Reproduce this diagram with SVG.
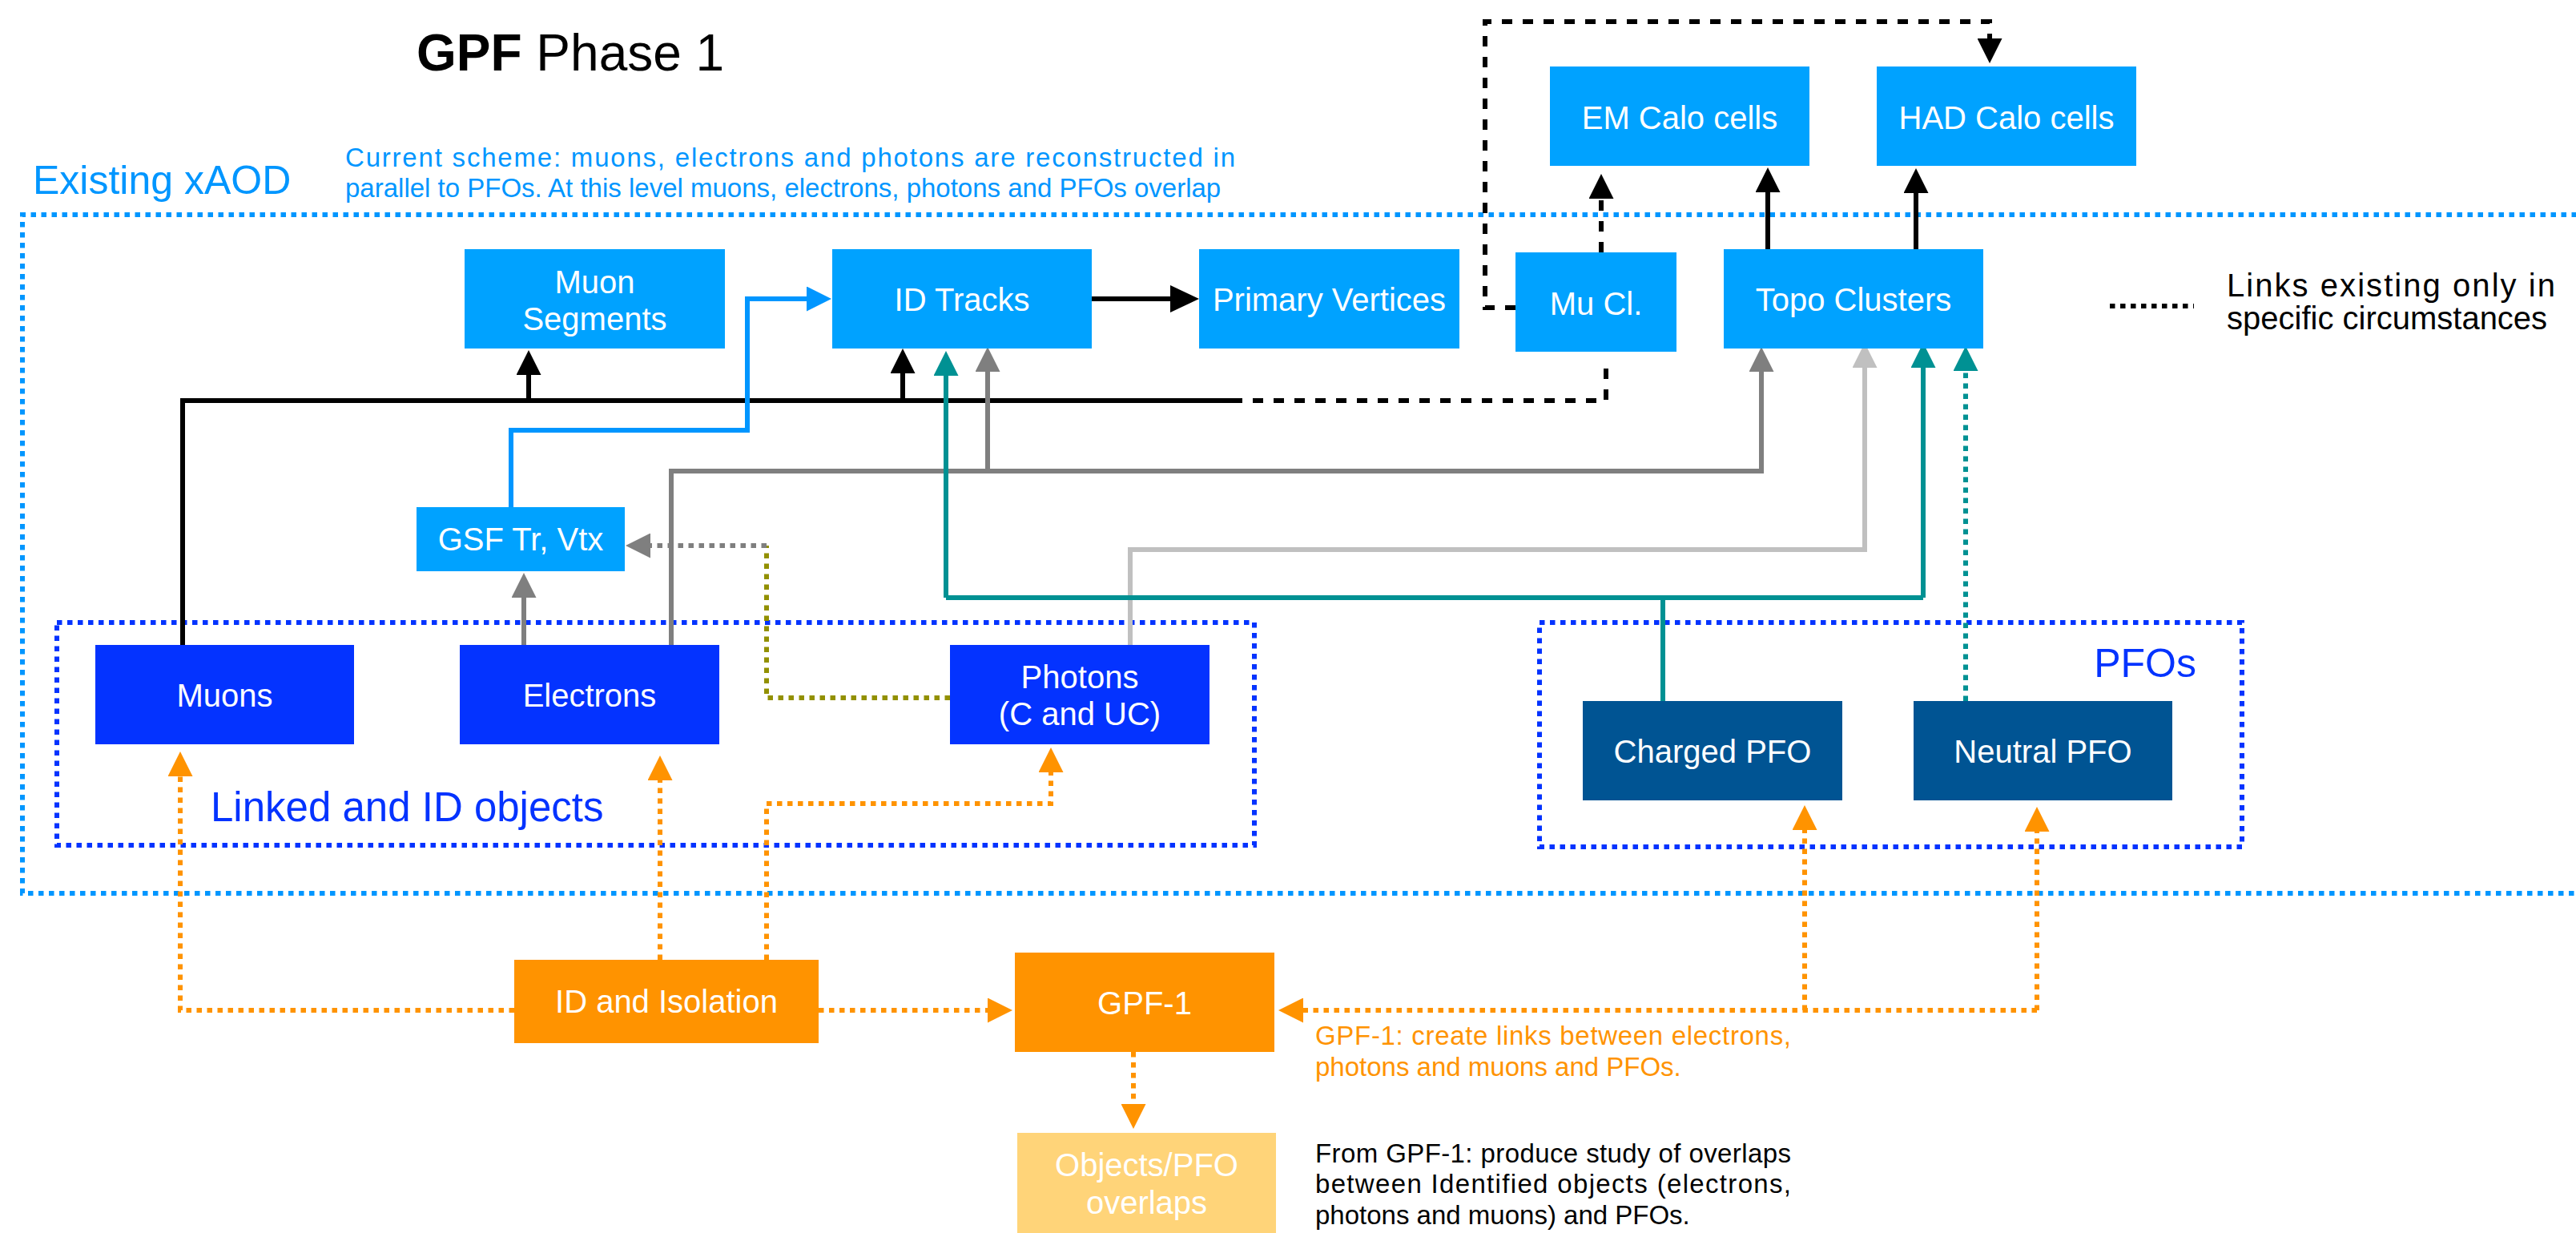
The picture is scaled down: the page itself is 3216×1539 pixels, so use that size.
<svg xmlns="http://www.w3.org/2000/svg" width="3216" height="1539" viewBox="0 0 3216 1539">
<style>
  text { font-family: "Liberation Sans", Arial, Helvetica, sans-serif; }
  .lbl { font-size: 40px; fill: #FFFFFF; text-anchor: middle; }
  .lb { fill: #00A2FF; }
  .db { fill: #0433FF; }
  .pf { fill: #005493; }
  .or { fill: #FF9300; }
  .po { fill: #FFD479; }
  .grp { fill: none; stroke-width: 6; stroke-dasharray: 6.5 6.5; }
  .c { fill: none; stroke-width: 6; }
  .dot { stroke-dasharray: 6.5 6.5; }
  .dash { stroke-dasharray: 13 13; }
  .note { font-size: 33px; }
</style>
<defs>
  <marker id="ah-black" markerUnits="userSpaceOnUse" viewBox="0 0 31 31" markerWidth="31" markerHeight="31" refX="1" refY="15.5" orient="auto"><path d="M0,0 L31,15.5 L0,31 z" fill="#000000"/></marker>
  <marker id="ah-gray" markerUnits="userSpaceOnUse" viewBox="0 0 31 31" markerWidth="31" markerHeight="31" refX="1" refY="15.5" orient="auto"><path d="M0,0 L31,15.5 L0,31 z" fill="#7F7F7F"/></marker>
  <marker id="ah-lgray" markerUnits="userSpaceOnUse" viewBox="0 0 31 31" markerWidth="31" markerHeight="31" refX="1" refY="15.5" orient="auto"><path d="M0,0 L31,15.5 L0,31 z" fill="#C0C0C0"/></marker>
  <marker id="ah-teal" markerUnits="userSpaceOnUse" viewBox="0 0 31 31" markerWidth="31" markerHeight="31" refX="1" refY="15.5" orient="auto"><path d="M0,0 L31,15.5 L0,31 z" fill="#009193"/></marker>
  <marker id="ah-blue" markerUnits="userSpaceOnUse" viewBox="0 0 31 31" markerWidth="31" markerHeight="31" refX="1" refY="15.5" orient="auto"><path d="M0,0 L31,15.5 L0,31 z" fill="#0096FF"/></marker>
  <marker id="ah-orange" markerUnits="userSpaceOnUse" viewBox="0 0 31 31" markerWidth="31" markerHeight="31" refX="1" refY="15.5" orient="auto"><path d="M0,0 L31,15.5 L0,31 z" fill="#FF9300"/></marker>
  <marker id="ah-black-big" markerUnits="userSpaceOnUse" viewBox="0 0 36 34" markerWidth="36" markerHeight="34" refX="1" refY="17" orient="auto"><path d="M0,0 L36,17 L0,34 z" fill="#000000"/></marker>
</defs>

<rect width="3216" height="1539" fill="#FFFFFF"/>

<!-- Titles and notes -->
<text x="520" y="88" font-size="64" fill="#000000"><tspan font-weight="bold">GPF</tspan> Phase 1</text>
<text x="41" y="242" font-size="50" fill="#0096FF">Existing xAOD</text>
<text x="431" y="208" class="note" fill="#0096FF" textLength="1111" lengthAdjust="spacing">Current scheme: muons, electrons and photons are reconstructed in</text>
<text x="431" y="246" class="note" fill="#0096FF">parallel to PFOs. At this level muons, electrons, photons and PFOs overlap</text>
<text x="263" y="1025" font-size="51" fill="#0433FF">Linked and ID objects</text>
<text x="2742" y="845" font-size="50" fill="#0433FF" text-anchor="end">PFOs</text>
<text x="2780" y="370" font-size="40" fill="#000000" textLength="410" lengthAdjust="spacing">Links existing only in</text>
<text x="2780" y="411" font-size="40" fill="#000000">specific circumstances</text>
<text x="1642" y="1304" class="note" fill="#FF9300" textLength="594" lengthAdjust="spacing">GPF-1: create links between electrons,</text>
<text x="1642" y="1343" class="note" fill="#FF9300">photons and muons and PFOs.</text>
<text x="1642" y="1451" class="note" fill="#000000" textLength="594" lengthAdjust="spacing">From GPF-1: produce study of overlaps</text>
<text x="1642" y="1489" class="note" fill="#000000" textLength="594" lengthAdjust="spacing">between Identified objects (electrons,</text>
<text x="1642" y="1528" class="note" fill="#000000">photons and muons) and PFOs.</text>

<!-- Group frames -->
<g id="frames">
  <path d="M3230,268 H28 V1115 H3230" class="grp" stroke="#0096FF"/>
  <rect x="71" y="777" width="1495" height="278" class="grp" stroke="#0433FF"/>
  <rect x="1922" y="777" width="877" height="280" class="grp" stroke="#0433FF"/>
</g>

<!-- Connectors -->
<g id="connectors">
  <path d="M2634,382 H2739" class="c dot" stroke="#000000"/>
  <path d="M228,805 V500 H1538" class="c" stroke="#000000"/>
  <path d="M1538,500 H2005 V450" class="c dash" stroke="#000000"/>
  <path d="M660,500 V467" class="c" stroke="#000000" marker-end="url(#ah-black)"/>
  <path d="M1127,500 V465" class="c" stroke="#000000" marker-end="url(#ah-black)"/>
  <path d="M638,633 V537 H933 V373 H1008" class="c" stroke="#0096FF" marker-end="url(#ah-blue)"/>
  <path d="M1363,373 H1462" class="c" stroke-width="9" stroke="#000000" marker-end="url(#ah-black-big)"/>
  <path d="M654,805 V745" class="c" stroke="#7F7F7F" marker-end="url(#ah-gray)"/>
  <path d="M838,810 V588 H2199 V463" class="c" stroke="#7F7F7F" marker-end="url(#ah-gray)"/>
  <path d="M1233,588 V463" class="c" stroke="#7F7F7F" marker-end="url(#ah-gray)"/>
  <path d="M1411,805 V686 H2328 V458" class="c" stroke="#C0C0C0" marker-end="url(#ah-lgray)"/>
  <path d="M1186,871 H957 V681" class="c dot" stroke="#929000"/>
  <path d="M957,681 H811" class="c dot" stroke="#7F7F7F" marker-end="url(#ah-gray)"/>
  <path d="M2076,875 V746" class="c" stroke="#009193"/>
  <path d="M1181,746 H2401" class="c" stroke="#009193"/>
  <path d="M1181,746 V468" class="c" stroke="#009193" marker-end="url(#ah-teal)"/>
  <path d="M2401,746 V458" class="c" stroke="#009193" marker-end="url(#ah-teal)"/>
  <path d="M2454,875 V462" class="c dot" stroke="#009193" marker-end="url(#ah-teal)"/>
  <path d="M1892,384 H1854 V27 H2484 V49" class="c dash" stroke="#000000" marker-end="url(#ah-black)"/>
  <path d="M1999,315 V247" class="c dash" stroke="#000000" marker-end="url(#ah-black)"/>
  <path d="M2207,311 V239" class="c" stroke="#000000" marker-end="url(#ah-black)"/>
  <path d="M2392,311 V240" class="c" stroke="#000000" marker-end="url(#ah-black)"/>
  <path d="M642,1261 H225 V968" class="c dot" stroke="#FF9300" marker-end="url(#ah-orange)"/>
  <path d="M824,1198 V973" class="c dot" stroke="#FF9300" marker-end="url(#ah-orange)"/>
  <path d="M957,1198 V1003 H1312 V963" class="c dot" stroke="#FF9300" marker-end="url(#ah-orange)"/>
  <path d="M1022,1261 H1234" class="c dot" stroke="#FF9300" marker-end="url(#ah-orange)"/>
  <path d="M2543,1261 H1626" class="c dot" stroke="#FF9300" marker-end="url(#ah-orange)"/>
  <path d="M2253,1261 V1035" class="c dot" stroke="#FF9300" marker-end="url(#ah-orange)"/>
  <path d="M2543,1261 V1037" class="c dot" stroke="#FF9300" marker-end="url(#ah-orange)"/>
  <path d="M1415,1313 V1379" class="c dot" stroke="#FF9300" marker-end="url(#ah-orange)"/>
</g>

<!-- Nodes -->
<g id="muon-segments"><rect x="580" y="311" width="325" height="124" class="lb"/><text class="lbl" x="742.5" y="366">Muon</text><text class="lbl" x="742.5" y="412">Segments</text></g>
<g id="id-tracks"><rect x="1039" y="311" width="324" height="124" class="lb"/><text class="lbl" x="1201" y="388">ID Tracks</text></g>
<g id="primary-vertices"><rect x="1497" y="311" width="325" height="124" class="lb"/><text class="lbl" x="1659.5" y="388">Primary Vertices</text></g>
<g id="mu-cl"><rect x="1892" y="315" width="201" height="124" class="lb"/><text class="lbl" x="1992.5" y="393">Mu Cl.</text></g>
<g id="topo-clusters"><rect x="2152" y="311" width="324" height="124" class="lb"/><text class="lbl" x="2314" y="388">Topo Clusters</text></g>
<g id="em-calo-cells"><rect x="1935" y="83" width="324" height="124" class="lb"/><text class="lbl" x="2097" y="161">EM Calo cells</text></g>
<g id="had-calo-cells"><rect x="2343" y="83" width="324" height="124" class="lb"/><text class="lbl" x="2505" y="161">HAD Calo cells</text></g>
<g id="gsf-tr-vtx"><rect x="520" y="633" width="260" height="80" class="lb"/><text class="lbl" x="650" y="687">GSF Tr, Vtx</text></g>
<g id="muons"><rect x="119" y="805" width="323" height="124" class="db"/><text class="lbl" x="280.5" y="882">Muons</text></g>
<g id="electrons"><rect x="574" y="805" width="324" height="124" class="db"/><text class="lbl" x="736" y="882">Electrons</text></g>
<g id="photons"><rect x="1186" y="805" width="324" height="124" class="db"/><text class="lbl" x="1348" y="859">Photons</text><text class="lbl" x="1348" y="905">(C and UC)</text></g>
<g id="charged-pfo"><rect x="1976" y="875" width="324" height="124" class="pf"/><text class="lbl" x="2138" y="952">Charged PFO</text></g>
<g id="neutral-pfo"><rect x="2389" y="875" width="323" height="124" class="pf"/><text class="lbl" x="2550.5" y="952">Neutral PFO</text></g>
<g id="id-and-isolation"><rect x="642" y="1198" width="380" height="104" class="or"/><text class="lbl" x="832" y="1264">ID and Isolation</text></g>
<g id="gpf-1"><rect x="1267" y="1189" width="324" height="124" class="or"/><text class="lbl" x="1429" y="1266">GPF-1</text></g>
<g id="objects-pfo-overlaps"><rect x="1270" y="1414" width="323" height="125" class="po"/><text class="lbl" x="1431.5" y="1468">Objects/PFO</text><text class="lbl" x="1431.5" y="1515">overlaps</text></g>
</svg>
